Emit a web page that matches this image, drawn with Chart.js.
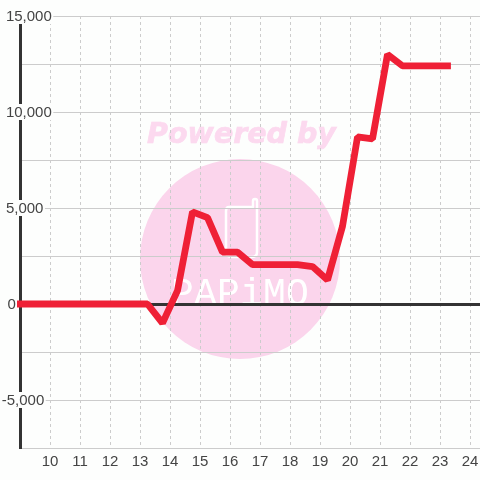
<!DOCTYPE html>
<html>
<head>
<meta charset="utf-8">
<style>
html,body{margin:0;padding:0;background:#fdfefd;}
#wrap{position:relative;width:480px;height:480px;}
canvas{display:block;}
</style>
<script src="https://cdn.jsdelivr.net/npm/chart.js@4"></script>
</head>
<body>
<div id="wrap"><canvas id="c" width="480" height="480"></canvas></div>
<script>
const xValues = [8.75,9.25,9.75,10.25,10.75,11.25,11.75,12.25,12.75,13.25,13.75,14.25,14.75,15.25,15.75,16.25,16.75,17.25,17.75,18.25,18.75,19.25,19.75,20.25,20.75,21.25,21.75,22.25,22.75,23.25];
const seriesValues = [0,0,0,0,0,0,0,0,0,0,-1000,700,4800,4500,2700,2700,2050,2050,2050,2050,1950,1250,4050,8700,8600,13000,12400,12400,12400,12400];
const yTickLabels = [15000,10000,5000,0,-5000];
const xTickLabels = [10,11,12,13,14,15,16,17,18,19,20,21,22,23,24];
const watermarkTop = "Powered by";
const watermarkBrand = "PAPiMO";

const labelFont = '15px "Liberation Sans"';
const labelColor = '#444';
const fmt = v => v.toLocaleString('en-US');

const watermark = {
  id:'watermark',
  beforeDraw(chart){
    const c = chart.ctx;
    c.save();
    c.fillStyle = '#fbd5ec';
    c.beginPath(); c.arc(240,259,100,0,Math.PI*2); c.fill();
    c.fillStyle = '#fcd9ef';
    c.strokeStyle = '#fcd9ef'; c.lineWidth = 0.7;
    c.font = 'italic bold 28.5px "DejaVu Sans"';
    c.textAlign = 'center'; c.textBaseline = 'middle';
    c.fillText(watermarkTop,241.5,136);
    c.strokeText(watermarkTop,241.5,136);
    c.strokeStyle = '#fff'; c.lineWidth = 2.5; c.lineJoin='round';
    c.beginPath();
    c.moveTo(229,207);c.lineTo(253,207);c.lineTo(253,201);
    c.arc(255,201,2,Math.PI,0);
    c.lineTo(257,252);c.quadraticCurveTo(257,257,252,257);
    c.lineTo(232,257);c.quadraticCurveTo(226,257,226,252);
    c.lineTo(226,211);c.quadraticCurveTo(226,207,229,207);
    c.stroke();
    c.fillStyle = '#fff';
    c.font = '38px "Liberation Mono"';
    c.textAlign = 'left'; c.textBaseline = 'alphabetic';
    [...watermarkBrand].forEach((ch,i)=>c.fillText(ch,171+i*23,305));
    c.restore();
  }
};

const yLabels = {
  id:'yLabels',
  beforeDatasetsDraw(chart){
    const c = chart.ctx, s = chart.scales.y;
    c.save();
    c.font = labelFont;
    c.textBaseline = 'middle'; c.textAlign = 'left';
    yTickLabels.forEach(v=>{
      const t = fmt(v), w = c.measureText(t).width;
      const x = v<0 ? 1.7 : (v===0 ? 7.4 : 5.9);
      const y = s.getPixelForValue(v);
      c.fillStyle = '#fdfefd';
      c.fillRect(x-0.5,y-8,w+2,16);
      c.fillStyle = labelColor;
      c.fillText(t,x,y+1);
    });
    c.restore();
  }
};

new Chart(document.getElementById('c'),{
  type:'line',
  data:{datasets:[{
    data:xValues.map((x,i)=>({x,y:seriesValues[i]})),
    borderColor:'#ef2036',
    borderWidth:6.8,
    borderJoinStyle:'bevel',
    borderCapStyle:'square',
    pointRadius:0,
    tension:0,
    fill:false,
    clip:3
  }]},
  options:{
    responsive:false,
    animation:false,
    events:[],
    layout:{padding:{top:16,left:0,right:0,bottom:0}},
    plugins:{legend:{display:false},tooltip:{enabled:false},title:{display:false}},
    scales:{
      x:{
        type:'linear',min:9,max:24+1/3,
        afterFit(s){s.height=32;s.paddingLeft=0;s.paddingRight=0;},
        afterBuildTicks(s){s.ticks=[{value:9}].concat(xTickLabels.map(value=>({value})));},
        grid:{color:ctx=>ctx.tick&&ctx.tick.value===9?'rgba(0,0,0,0)':'#ccc',lineWidth:1,drawTicks:false},
        border:{display:false,dash:[3,3]},
        ticks:{autoSkip:false,maxRotation:0,includeBounds:false,padding:5,color:labelColor,font:{family:'"Liberation Sans"',size:15},
               callback:v=>v<10?'':String(v)}
      },
      y:{
        type:'linear',min:-7500,max:15000,
        afterFit(s){s.width=20;s.paddingTop=0;s.paddingBottom=0;},
        ticks:{display:false,stepSize:2500},
        grid:{drawTicks:false,
              color:ctx=>ctx.tick&&ctx.tick.value===0?'#333':'#ccc',
              lineWidth:ctx=>ctx.tick&&ctx.tick.value===0?3:1},
        border:{display:true,color:'#333',width:3}
      }
    }
  },
  plugins:[watermark,yLabels]
});
</script>
</body>
</html>
